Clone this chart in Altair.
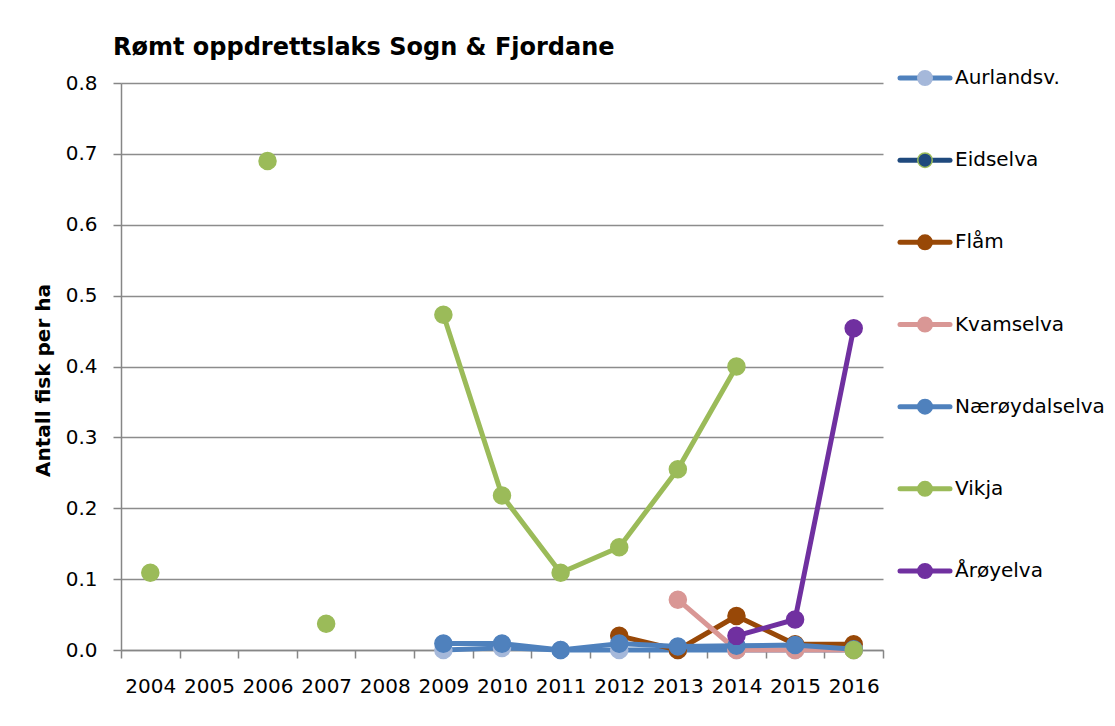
import altair as alt
import pandas as pd

years = ["2004", "2005", "2006", "2007", "2008", "2009", "2010",
         "2011", "2012", "2013", "2014", "2015", "2016"]

series = ["Aurlandsv.", "Eidselva", "Flåm", "Kvamselva",
          "Nærøydalselva", "Vikja", "Årøyelva"]

N = None
aurlandsv = [N, N, N, N, N, 0.0, 0.003, 0.0, 0.0, 0.0, 0.0, 0.0, 0.0]
eidselva = [N, N, N, N, N, N, N, N, N, N, N, N, N]
flaam = [N, N, N, N, N, N, N, N, 0.020, 0.0, 0.048, 0.008, 0.008]
kvamselva = [N, N, N, N, N, N, N, N, N, 0.071, 0.0, 0.0, 0.0]
naeroydalselva = [N, N, N, N, N, 0.009, 0.009, 0.0, 0.009, 0.005, 0.006, 0.007, 0.001]
vikja = [0.109, N, 0.690, 0.037, N, 0.473, 0.218, 0.109, 0.145, 0.255, 0.400, N, 0.0]
aroyelva = [N, N, N, N, N, N, N, N, N, N, 0.020, 0.043, 0.454]

values = [aurlandsv, eidselva, flaam, kvamselva, naeroydalselva, vikja, aroyelva]

# connected runs as drawn in the original (2006 and 2007 of Vikja stand alone)
vikja_runs = [1, N, 2, 3, N, 4, 4, 4, 4, 4, 4, N, 5]

line_colors = ["#4F81BD", "#1F497D", "#984807", "#D99795", "#4F81BD", "#9BBB59", "#7030A0"]
marker_colors = ["#A5B8DA", "#1F497D", "#984807", "#D99795", "#4F81BD", "#9BBB59", "#7030A0"]
marker_strokes = ["#A5B8DA", "#9BBB59", "#984807", "#D99795", "#4F81BD", "#9BBB59", "#7030A0"]

FONT = "DejaVu Sans"

rows = []
for s, vals in zip(series, values):
    seg = 0
    for i, (y, v) in enumerate(zip(years, vals)):
        if v is None:
            seg += 1
            continue
        run = vikja_runs[i] if s == "Vikja" else seg
        rows.append({"series": s, "year": y, "value": v, "seg": f"{s}-{run}"})
df = pd.DataFrame(rows, columns=["series", "year", "value", "seg"])

x_enc = alt.X(
    "year:O",
    scale=alt.Scale(domain=years, type="band", paddingInner=0, paddingOuter=0),
    axis=alt.Axis(
        title=None, tickBand="extent", labelAngle=0, grid=False,
        labelFont=FONT, labelFontSize=20, labelColor="#000000",
        labelPadding=18, tickSize=8, tickColor="#868686", tickWidth=1.5,
        domainColor="#868686", domainWidth=1.5,
    ),
)
y_enc = alt.Y(
    "value:Q",
    scale=alt.Scale(domain=[0, 0.8], nice=False, zero=True),
    axis=alt.Axis(
        title="Antall fisk per ha", values=[0, 0.1, 0.2, 0.3, 0.4, 0.5, 0.6, 0.7, 0.8],
        format=".1f", labelFont=FONT, labelFontSize=20, labelColor="#000000",
        labelPadding=16, tickSize=8, tickColor="#868686", tickWidth=1.5,
        domainColor="#868686", domainWidth=1.5,
        grid=True, gridColor="#8C8C8C", gridWidth=1.5,
        titleFont=FONT, titleFontSize=20, titleFontWeight="bold", titleColor="#000000",
        titleAngle=-90, titleX=-78, titleY=297, titleAlign="center", titleBaseline="middle",
    ),
)

base = alt.Chart(df)
layers = []
for s, lc, mc, ms in zip(series, line_colors, marker_colors, marker_strokes):
    sub = base.transform_filter(alt.datum.series == s)
    layers.append(
        sub.mark_line(strokeWidth=5, strokeJoin="round", strokeCap="round").encode(
            x=x_enc, y=y_enc, detail="seg:N", color=alt.value(lc)
        )
    )
    layers.append(
        sub.mark_point(filled=True, size=290, opacity=1, shape="circle",
                       strokeWidth=1.5).encode(
            x=x_enc, y=y_enc, fill=alt.value(mc), stroke=alt.value(ms)
        )
    )
main = alt.layer(*layers)

leg_df = pd.DataFrame({
    "series": series,
    "lcolor": line_colors,
    "mcolor": marker_colors,
    "mstroke": marker_strokes,
})
leg_y = alt.Y("series:N", scale=alt.Scale(domain=series, type="point", range=[-5, 488], padding=0),
              axis=None)
leg_base = alt.Chart(leg_df)
leg_rule = leg_base.mark_rule(strokeWidth=5, strokeCap="round").encode(
    x=alt.value(779), x2=alt.value(829), y=leg_y,
    color=alt.Color("lcolor:N", scale=None),
)
leg_pt = leg_base.mark_point(filled=True, size=210, opacity=1, strokeWidth=1.5).encode(
    x=alt.value(804), y=leg_y,
    fill=alt.Fill("mcolor:N", scale=None),
    stroke=alt.Stroke("mstroke:N", scale=None),
)
leg_txt = leg_base.mark_text(align="left", baseline="middle", font=FONT, fontSize=20,
                             color="#000000").encode(
    x=alt.value(834), y=leg_y, text="series:N"
)
legend = alt.layer(leg_rule, leg_pt, leg_txt)

chart = alt.layer(main, legend).resolve_scale(y="independent").properties(
    width=762,
    height=567,
    padding={"left": 113, "top": 75, "right": 224, "bottom": 60},
    autosize=alt.AutoSizeParams(type="none"),
    title=alt.TitleParams(
        "Rømt oppdrettslaks Sogn & Fjordane",
        anchor="start", frame="group", dx=-8, offset=8,
        font=FONT, fontSize=24, fontWeight="bold", color="#000000",
    ),
).configure(background="#FFFFFF").configure_view(stroke=None)

chart.save("out.html", embed_options={"renderer": "svg", "actions": False})
